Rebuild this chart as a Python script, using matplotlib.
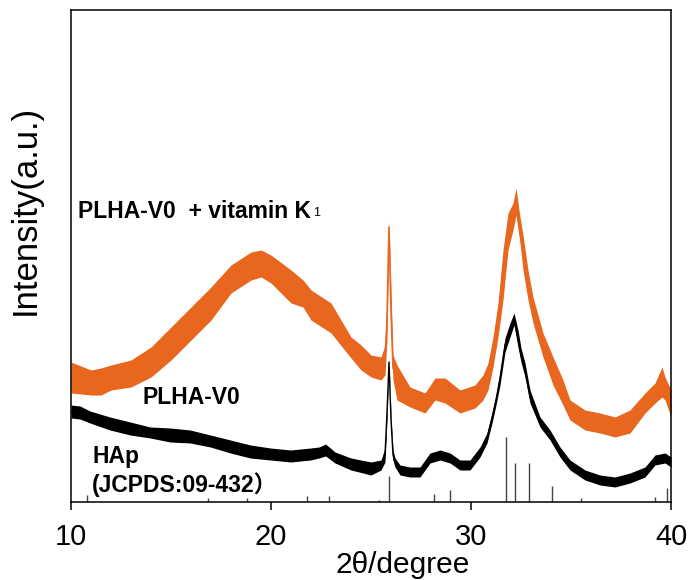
import numpy as np
import matplotlib
matplotlib.use('Agg')
import matplotlib.pyplot as plt
from matplotlib.transforms import IdentityTransform

plt.rcParams['font.family'] = ['Liberation Sans', 'Noto Sans CJK SC', 'DejaVu Sans']

# PLHA-V0 + vitamin K1 (orange): 2theta, upper / lower edge of the noisy trace (a.u.)
two_theta_k1 = [10.0, 10.5, 11.0, 11.5, 12.0, 13.0, 14.0, 15.0, 16.0, 17.0, 18.0, 19.0, 19.5,
                20.0, 21.0, 21.6, 22.0, 23.0, 24.0, 24.5, 25.0, 25.5, 25.7, 25.8, 25.9, 26.0,
                26.1, 26.3, 26.95, 27.7, 28.2, 28.7, 29.45, 30.2, 30.6, 30.85, 31.1, 31.35,
                31.6, 31.85, 32.1, 32.25, 32.45, 32.6, 32.85, 33.1, 33.6, 34.1, 34.6, 34.95,
                35.7, 36.45, 37.2, 37.95, 38.7, 39.2, 39.55, 39.7, 40.0]
k1_hi = [140, 136, 132, 134, 137, 142, 155, 175, 195, 215, 237, 250, 252,
         247, 232, 222, 212, 199, 165, 157, 147, 145, 157, 202, 280, 212,
         147, 137, 115, 109, 124, 124, 112, 117, 127, 139, 165, 199,
         252, 289, 299, 314, 285, 267, 232, 205, 169, 145, 122, 102,
         92, 89, 85, 92, 109, 119, 135, 125, 112]
k1_lo = [109, 108, 107, 107, 112, 115, 125, 142, 162, 182, 209, 222, 225,
         219, 199, 195, 182, 169, 144, 132, 125, 122, 127, 162, 270, 172,
         122, 102, 95, 89, 102, 99, 89, 94, 102, 112, 135, 165,
         202, 252, 272, 287, 259, 232, 202, 179, 145, 117, 97, 82,
         72, 69, 65, 69, 89, 99, 105, 102, 85]

# PLHA-V0 (black)
two_theta_v0 = [10.0, 10.45, 10.95, 11.95, 12.96, 13.96, 14.96, 15.96, 16.97, 17.97, 18.97,
                19.97, 20.98, 21.98, 22.4, 22.73, 23.2, 24.0, 25.0, 25.5, 25.7, 25.8, 25.9,
                26.0, 26.1, 26.2, 26.45, 26.95, 27.45, 27.95, 28.45, 28.95, 29.45, 29.95,
                30.45, 30.8, 31.05, 31.25, 31.45, 31.7, 31.95, 32.15, 32.35, 32.5, 32.7,
                32.95, 33.45, 33.95, 34.45, 34.95, 35.7, 36.45, 37.2, 37.95, 38.7, 39.2,
                39.7, 40.0]
v0_hi = [97, 96, 91, 85, 80, 75, 74, 72, 67, 62, 57,
         54, 52, 54, 55, 58, 50, 44, 40, 42, 54, 97, 142,
         87, 52, 44, 37, 35, 35, 49, 52, 49, 42, 42,
         55, 69, 89, 107, 130, 164, 179, 189, 172, 154, 139,
         112, 85, 72, 55, 42, 32, 27, 25, 29, 35, 47,
         49, 45]
v0_lo = [84, 83, 79, 72, 67, 64, 60, 59, 55, 49, 44,
         42, 40, 42, 44, 46, 39, 32, 27, 32, 40, 82, 138,
         77, 42, 35, 27, 25, 25, 39, 42, 39, 32, 32,
         45, 59, 79, 97, 117, 150, 165, 177, 155, 140, 125,
         99, 75, 62, 45, 32, 22, 17, 15, 19, 25, 37,
         39, 35]

# HAp reference lines (JCPDS 09-432)
ref_pos = [10.82, 16.84, 18.78, 21.82, 22.90, 25.38, 25.88, 28.13, 28.97, 31.77, 32.20,
           32.90, 34.05, 35.48, 39.20, 39.82]
ref_h = [7, 4, 4, 6, 6, 2, 26, 8, 12, 65, 39, 39, 16, 4, 5, 14]

orange = '#e8661e'

fig = plt.figure(figsize=(6.89, 5.8), dpi=100)
ax = fig.add_axes([71/689, 78/580, 600/689, 492/580])

# noisy traces drawn as filled bands between the read edges, centre line keeps sharp peaks visible
ax.fill_between(two_theta_k1, k1_lo, k1_hi, color=orange, lw=0)
ax.plot(two_theta_k1, (np.array(k1_lo) + np.array(k1_hi)) / 2, color=orange, lw=1.2)
ax.fill_between(two_theta_v0, v0_lo, v0_hi, color='black', lw=0)
ax.plot(two_theta_v0, (np.array(v0_lo) + np.array(v0_hi)) / 2, color='black', lw=1.0)
ax.vlines(ref_pos, 0, ref_h, color='#444444', lw=1.0)

ax.set_xlim(10, 40)
ax.set_ylim(0, 492)
ax.set_xticks([10, 20, 30, 40])
ax.set_yticks([])
ax.tick_params(axis='x', direction='out', length=6, width=1.1, labelsize=21, pad=9)
for s in ax.spines.values():
    s.set_linewidth(1.1)

ax.set_xlabel('2θ/degree', fontsize=21.5, labelpad=0)
ax.xaxis.set_label_coords(0.553, -0.1)
ax.xaxis.label.set_va('top')
ax.set_ylabel('Intensity(a.u.)', fontsize=25)
ax.yaxis.set_label_coords(-0.048, 0.593)

# sample labels
t1 = ax.text(10.35, 290, 'PLHA-V0  + vitamin K', fontsize=16.5, fontweight='bold',
             ha='left', va='center')
ax.text(13.55, 105, 'PLHA-V0', fontsize=16.5, fontweight='bold', ha='left', va='center')
ax.text(11.05, 46, 'HAp', fontsize=16.5, fontweight='bold', ha='left', va='center')
ax.text(11.05, 17, '(JCPDS:09-432）', fontsize=16.5, fontweight='bold', ha='left', va='center')

# subscript 1 on K
fig.canvas.draw()
bb = t1.get_window_extent()
ax.text(bb.x1 + 2, bb.y0 + 4, '1', fontsize=9, transform=IdentityTransform(),
        ha='left', va='bottom')

fig.savefig('out.png', dpi=100)
